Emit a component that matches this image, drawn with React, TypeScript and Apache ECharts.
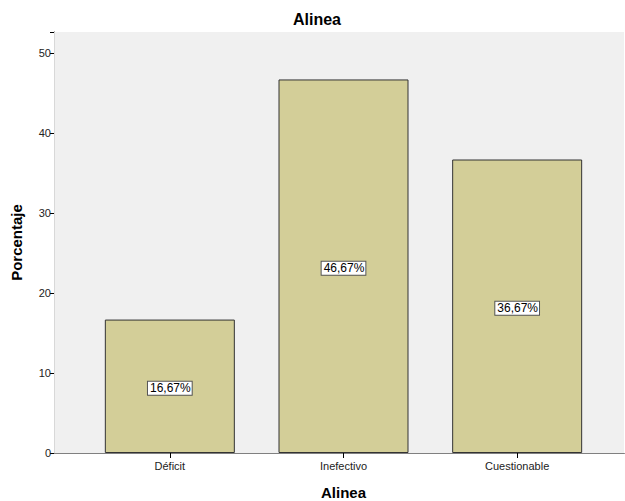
import React, { useEffect, useRef } from "react";
import * as echarts from "echarts";

const categories = ["Déficit", "Inefectivo", "Cuestionable"];
const percentages = [16.67, 46.67, 36.67];
const yTicks = [0, 10, 20, 30, 40, 50];

const FONT = "'Liberation Sans', Arial, Helvetica, sans-serif";
const Y_MAX = 52.6;

export default function App() {
  const ref = useRef<HTMLDivElement>(null);

  useEffect(() => {
    if (!ref.current) return;
    const chart = echarts.init(ref.current, undefined, { renderer: "svg" });
    const option: any = {
      animation: false,
      backgroundColor: "#ffffff",
      textStyle: { fontFamily: FONT },
      title: {
        text: "Alinea",
        left: 288,
        top: 6,
        textStyle: { fontFamily: FONT, fontSize: 16, fontWeight: "bold", color: "#000" },
      },
      grid: [
        {
          left: 54,
          right: 1,
          top: 32,
          bottom: 48,
          show: true,
          backgroundColor: "#f0f0f0",
          borderWidth: 0,
          containLabel: false,
          outerBoundsMode: "none",
        },
        {
          left: 83,
          right: 21,
          top: 32,
          bottom: 48,
          containLabel: false,
          outerBoundsMode: "none",
        },
      ],
      xAxis: [
        {
          gridIndex: 0,
          type: "value",
          min: 0,
          max: 1,
          axisLine: { show: true, lineStyle: { color: "#000", width: 1 } },
          axisTick: { show: false },
          axisLabel: { show: false },
          splitLine: { show: false },
        },
        {
          gridIndex: 0,
          type: "value",
          position: "top",
          min: 0,
          max: 1,
          axisLine: { show: true, lineStyle: { color: "#808080", width: 1 } },
          axisTick: { show: false },
          axisLabel: { show: false },
          splitLine: { show: false },
        },
        {
          gridIndex: 1,
          type: "category",
          data: categories,
          axisLine: { show: false },
          axisTick: {
            show: true,
            alignWithLabel: true,
            length: 5,
            lineStyle: { color: "#000" },
          },
          axisLabel: { fontSize: 11, color: "#222", fontFamily: FONT, margin: 7 },
          name: "Alinea",
          nameLocation: "middle",
          nameGap: 32,
          nameTextStyle: { fontFamily: FONT, fontSize: 15, fontWeight: "bold", color: "#000" },
        },
      ],
      yAxis: [
        {
          gridIndex: 0,
          type: "value",
          min: 0,
          max: Y_MAX,
          interval: 10,
          axisLine: { show: true, lineStyle: { color: "#000", width: 1 } },
          axisTick: { show: true, length: 4, lineStyle: { color: "#000" } },
          axisLabel: {
            fontSize: 11,
            color: "#222",
            fontFamily: FONT,
            margin: 3,
            formatter: (v: number) => (yTicks.includes(v) ? String(v) : ""),
          },
          splitLine: { show: false },
          name: "Porcentaje",
          nameLocation: "middle",
          nameGap: 30,
          nameTextStyle: { fontFamily: FONT, fontSize: 15, fontWeight: "bold", color: "#000" },
        },
        {
          gridIndex: 0,
          type: "value",
          position: "right",
          min: 0,
          max: Y_MAX,
          axisLine: { show: true, lineStyle: { color: "#d8d8d8", width: 1 } },
          axisTick: { show: false },
          axisLabel: { show: false },
          splitLine: { show: false },
        },
        {
          gridIndex: 1,
          type: "value",
          min: 0,
          max: Y_MAX,
          show: false,
          splitLine: { show: false },
        },
      ],
      series: [
        {
          type: "bar",
          xAxisIndex: 2,
          yAxisIndex: 2,
          data: percentages,
          barWidth: 130,
          itemStyle: { color: "#d3ce98", borderColor: "#333333", borderWidth: 1 },
          label: {
            show: true,
            position: "inside",
            offset: [0, 2],
            formatter: (p: any) => `${Number(p.value).toFixed(2).replace(".", ",")}%`,
            fontFamily: FONT,
            fontSize: 12,
            color: "#000",
            backgroundColor: "#ffffff",
            borderColor: "#555555",
            borderWidth: 1,
            padding: [1, 1, 0, 2],
          },
        },
      ],
    };
    chart.setOption(option);
    return () => chart.dispose();
  }, []);

  return (
    <div
      ref={ref}
      style={{ position: "fixed", left: 0, top: 0, width: 625, height: 501 }}
    />
  );
}
